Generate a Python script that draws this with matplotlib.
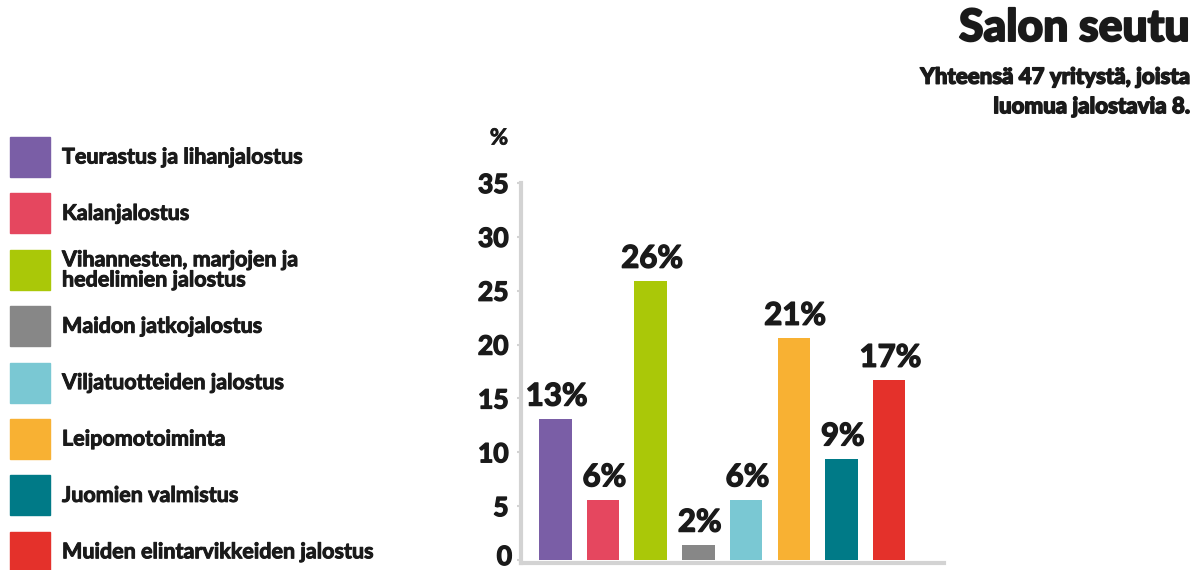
import matplotlib
matplotlib.use("Agg")
import matplotlib.pyplot as plt
import matplotlib.patheffects as pe
from matplotlib.patches import Rectangle

plt.rcParams["font.family"] = ["Lato", "DejaVu Sans"]

CATEGORIES = [
    "Teurastus ja lihanjalostus",
    "Kalanjalostus",
    "Vihannesten, marjojen ja\nhedelimien jalostus",
    "Maidon jatkojalostus",
    "Viljatuotteiden jalostus",
    "Leipomotoiminta",
    "Juomien valmistus",
    "Muiden elintarvikkeiden jalostus",
]
VALUES = [13.1, 5.6, 25.9, 1.4, 5.6, 20.6, 9.4, 16.7]
LABELS = ["13%", "6%", "26%", "2%", "6%", "21%", "9%", "17%"]
COLORS = ["#7a5ea6", "#e5475f", "#aac808", "#878787",
          "#7ac8d3", "#f8b133", "#007a87", "#e4312b"]
YTICKS = [0, 5, 10, 15, 20, 25, 30, 35]

TXT = "#1a1a1a"
AX = "#d3d3d3"
W, H = 1199, 570


def heavy(w):
    # fake a heavier weight than the installed bold
    return [pe.withStroke(linewidth=w, foreground=TXT)]


fig = plt.figure(figsize=(W / 100, H / 100), dpi=100)

# chart axes in pixel geometry
left, right, bottom, top = 521, 944, 563.2, 183
ax = fig.add_axes([left / W, (H - bottom) / H, (right - left) / W, (bottom - top) / H])
x = list(range(len(VALUES)))
ax.bar(x, VALUES, width=0.68, color=COLORS, zorder=2)
ax.set_xlim(-0.72, 8.15)
ax.set_ylim(-0.3, 35)
for s in ("top", "right"):
    ax.spines[s].set_visible(False)
for s in ("left", "bottom"):
    ax.spines[s].set_color(AX)
    ax.spines[s].set_linewidth(3)
ax.set_xticks([])
ax.set_yticks(YTICKS)
# "0" is drawn separately below so it sits inside the figure edge
ax.set_yticklabels([""] + [str(t) for t in YTICKS[1:]], fontsize=19,
                   fontweight="bold", color=TXT)
for t in ax.get_yticklabels():
    t.set_path_effects(heavy(1.0))
ax.tick_params(axis="y", length=3, width=1.5, color=AX, pad=6)
fig.text(512 / W, 1 - 565 / H, str(YTICKS[0]), ha="right", va="baseline",
         fontsize=19, fontweight="bold", color=TXT, path_effects=heavy(1.0))

for xi, v, lab in zip(x, VALUES, LABELS):
    ax.annotate(lab, (xi, v), xytext=(1, 6), textcoords="offset points",
                ha="center", va="bottom", fontsize=22.5, fontweight="bold", color=TXT,
                path_effects=heavy(1.0))

fig.text(499 / W, 1 - 138 / H, "%", ha="center", va="center",
         fontsize=16, fontweight="bold", color=TXT, path_effects=heavy(0.6))

# legend
for i, (cat, col) in enumerate(zip(CATEGORIES, COLORS)):
    yc = 157 + i * 56.4
    fig.patches.append(Rectangle((10 / W, 1 - (yc + 20) / H), 40 / W, 40 / H,
                                 transform=fig.transFigure, color=col))
    fig.text(62 / W, 1 - yc / H, cat, ha="left", va="center", fontsize=15.5,
             fontweight="bold", color=TXT, linespacing=0.95,
             path_effects=heavy(0.7))

# titles
fig.text(1190 / W, 1 - 28 / H, "Salon seutu", ha="right", va="center",
         fontsize=32, fontweight="black", color=TXT, path_effects=heavy(1.4))
fig.text(1190 / W, 1 - 92 / H, "Yhteensä 47 yritystä, joista\nluomua jalostavia 8.",
         ha="right", va="center", fontsize=16, fontweight="black", color=TXT,
         linespacing=1.5, path_effects=heavy(1.0))

fig.savefig("out.png", dpi=100)
